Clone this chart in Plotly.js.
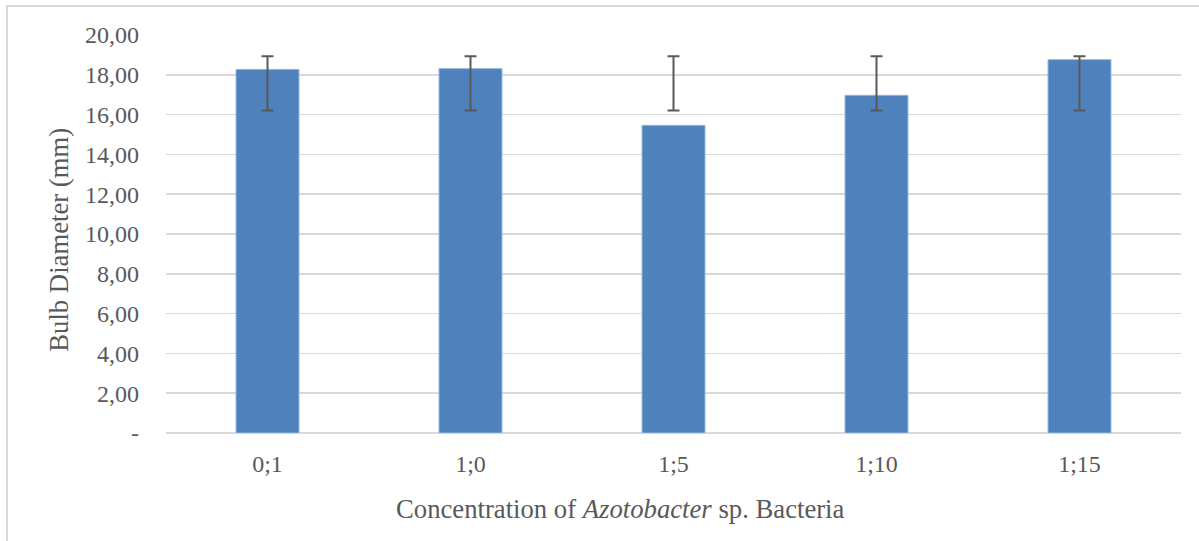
<!DOCTYPE html>
<html>
<head>
<meta charset="utf-8">
<script src="https://cdn.plot.ly/plotly-3.0.1.min.js"></script>
<style>
  html, body { margin: 0; padding: 0; background: #ffffff; overflow: hidden; }
  #wrap { position: relative; width: 1199px; height: 541px; }
  #chart { position: absolute; left: 0; top: 0; width: 1199px; height: 541px; }
  #frame { position: absolute; left: 6px; top: 5px; width: 1300px; height: 700px;
           border-left: 2px solid #d9d9d9; border-top: 2px solid #d9d9d9; pointer-events: none; }
</style>
</head>
<body>
<div id="wrap">
  <div id="chart"></div>
  <div id="frame"></div>
</div>
<script>
const categories = ['0;1', '1;0', '1;5', '1;10', '1;15'];
const diameter = [18.27, 18.31, 15.46, 16.97, 18.76];
const errHigh = [18.93, 18.93, 18.93, 18.93, 18.93];
const errLow = [16.21, 16.21, 16.21, 16.21, 16.21];
const yTickVals = [0, 2, 4, 6, 8, 10, 12, 14, 16, 18, 20];
const yTickText = ['-', '2,00', '4,00', '6,00', '8,00', '10,00', '12,00', '14,00', '16,00', '18,00', '20,00'];
const xTitle = 'Concentration of <i>Azotobacter</i> sp. Bacteria';
const yTitle = 'Bulb Diameter (mm)';

const errMid = errHigh.map((h, i) => (h + errLow[i]) / 2);
const errHalf = errHigh.map((h, i) => (h - errLow[i]) / 2);

const tickFont = { family: 'Liberation Serif, serif', color: '#595959', size: 24 };
const titleFont = { family: 'Liberation Serif, serif', color: '#595959', size: 26.7 };

const traces = [
  {
    type: 'bar',
    x: categories,
    y: diameter,
    marker: { color: '#4f81bd', line: { color: '#8eb4e3', width: 1 } },
    hoverinfo: 'x+y'
  },
  {
    type: 'scatter',
    mode: 'markers',
    x: categories,
    y: errMid,
    marker: { opacity: 0, size: 1 },
    error_y: { type: 'data', symmetric: true, array: errHalf, color: '#595959', thickness: 2, width: 6 },
    hoverinfo: 'skip'
  }
];

const layout = {
  width: 1199,
  height: 541,
  margin: { l: 166, r: 18, t: 35, b: 108 },
  paper_bgcolor: '#ffffff',
  plot_bgcolor: '#ffffff',
  showlegend: false,
  bargap: 0.69,
  font: tickFont,
  xaxis: {
    type: 'category',
    showgrid: false,
    zeroline: false,
    showline: false,
    ticks: '',
    tickfont: tickFont,
    ticklabelstandoff: 14
  },
  yaxis: {
    range: [0, 20],
    tickvals: yTickVals,
    ticktext: yTickText,
    showgrid: true,
    gridcolor: '#d9d9d9',
    gridwidth: 1.5,
    zeroline: true,
    zerolinecolor: '#d9d9d9',
    zerolinewidth: 1.5,
    showline: false,
    ticks: '',
    tickfont: tickFont,
    ticklabelstandoff: 26
  },
  annotations: [
    { text: xTitle, xref: 'paper', yref: 'paper', x: 0.4473, y: -0.192,
      xanchor: 'center', yanchor: 'middle', showarrow: false, font: titleFont },
    { text: yTitle, xref: 'paper', yref: 'paper', x: -0.1054, y: 0.4857, textangle: -90,
      xanchor: 'center', yanchor: 'middle', showarrow: false, font: titleFont }
  ]
};

Plotly.newPlot('chart', traces, layout, { displayModeBar: false, staticPlot: true });
</script>
</body>
</html>
